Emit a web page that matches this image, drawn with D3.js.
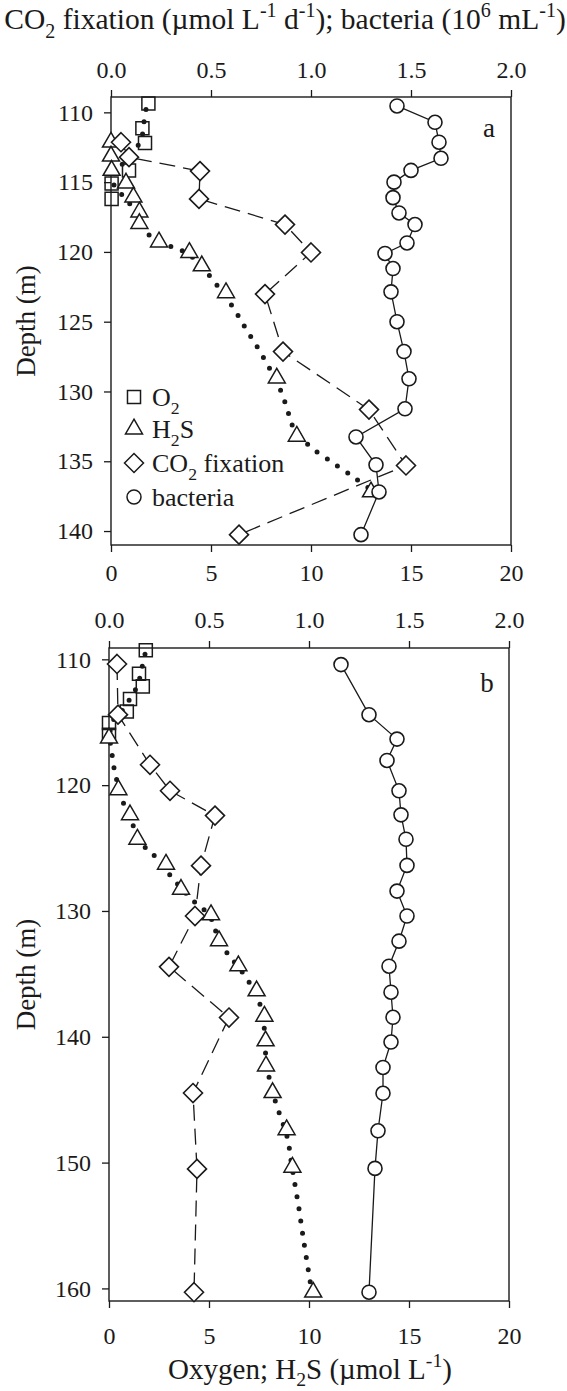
<!DOCTYPE html>
<html><head><meta charset="utf-8">
<script src="https://cdn.jsdelivr.net/npm/d3@7/dist/d3.min.js"></script>
<style>
body{margin:0;background:#fff}
svg{display:block}
text{font-family:"Liberation Serif","Times New Roman",serif;fill:#1a1a1a}
</style>
</head><body>
<svg id="c" width="567" height="1391"></svg>
<script>
// ---------- axis ticks ----------
const bottomTicks = [0, 5, 10, 15, 20];
const topTicks = [0, 0.5, 1.0, 1.5, 2.0];
const depthTicksA = [110, 115, 120, 125, 130, 135, 140];
const depthTicksB = [110, 120, 130, 140, 150, 160];

// ---------- panel a ----------
const a_o2_depth = [109.36, 111.14, 112.19, 114.16, 115.1, 116.2];
const a_o2 = [1.87, 1.57, 1.7, 0.9, 0.03, 0.03];
const a_h2s_depth = [112.14, 113.14, 114.16, 115.07, 116.07, 117.14, 117.97, 119.29, 120.04, 121.0, 122.93, 129.04, 133.21, 137.2];
const a_h2s = [0.0, 0.0, 0.03, 0.75, 1.12, 1.42, 1.42, 2.4, 3.92, 4.54, 5.75, 8.29, 9.29, 13.0];
const a_co2_depth = [112.14, 113.21, 114.21, 116.2, 118.04, 120.04, 123.02, 127.14, 131.3, 135.3, 140.26];
const a_co2 = [0.05, 0.09, 0.445, 0.44, 0.87, 1.0, 0.77, 0.86, 1.29, 1.475, 0.64];
const a_bac_depth = [109.54, 110.71, 112.14, 113.29, 114.16, 115.0, 116.11, 117.21, 118.04, 119.36, 120.11, 121.19, 122.86, 125.0, 127.14, 129.09, 131.24, 133.26, 135.25, 137.2, 140.26];
const a_bac = [1.43, 1.62, 1.64, 1.65, 1.50, 1.415, 1.41, 1.44, 1.52, 1.48, 1.37, 1.41, 1.40, 1.43, 1.465, 1.49, 1.47, 1.225, 1.325, 1.34, 1.25];
// model curve (dotted)
const a_model_depth = [109.8, 110.16, 111.0, 112.0, 113.0, 114.0, 114.8, 115.5, 116.3, 117.3, 118.74, 119.64, 119.95, 120.54, 122.2, 123.93, 125.64, 127.33, 129.88, 131.6, 132.47, 133.88, 135.09, 136.26, 136.9];
const a_model = [1.75, 1.7, 1.62, 1.5, 1.0, 0.4, 0.05, 0.3, 0.8, 1.3, 1.87, 3.03, 3.6, 4.2, 5.2, 6.08, 6.8, 7.53, 8.47, 8.88, 9.08, 9.9, 11.08, 12.25, 12.87];

// ---------- panel b ----------
const b_o2_depth = [109.28, 111.14, 112.15, 113.15, 114.14, 115.06, 116.0];
const b_o2 = [1.84, 1.5, 1.69, 1.05, 0.89, 0.0, 0.0];
const b_h2s_depth = [116.26, 120.37, 122.36, 124.3, 126.29, 128.28, 130.3, 132.37, 134.36, 136.35, 138.37, 140.33, 142.32, 144.44, 147.39, 150.37, 160.3];
const b_h2s = [0.0, 0.47, 1.05, 1.42, 2.85, 3.6, 5.1, 5.5, 6.47, 7.38, 7.77, 7.83, 7.85, 8.18, 8.88, 9.17, 10.21];
const b_co2_depth = [110.37, 114.4, 118.38, 120.45, 122.42, 126.4, 130.4, 134.44, 138.47, 144.47, 150.5, 160.3];
const b_co2 = [0.04, 0.045, 0.205, 0.305, 0.53, 0.46, 0.43, 0.30, 0.60, 0.42, 0.44, 0.425];
const b_bac_depth = [110.42, 114.4, 116.34, 118.04, 120.45, 122.36, 124.3, 126.38, 128.42, 130.4, 132.4, 134.39, 136.46, 138.45, 140.42, 142.44, 144.49, 147.47, 150.46, 160.3];
const b_bac = [1.16, 1.30, 1.44, 1.39, 1.45, 1.46, 1.485, 1.49, 1.44, 1.49, 1.45, 1.40, 1.41, 1.42, 1.41, 1.37, 1.37, 1.345, 1.33, 1.30];
const b_model_depth = [109.6, 111.0, 112.0, 113.0, 114.0, 115.0, 116.2, 117.32, 118.3, 119.26, 121.17, 123.08, 124.83, 125.73, 127.54, 129.27, 130.06, 130.94, 131.84, 132.85, 133.77, 135.64, 137.57, 139.43, 141.34, 143.2, 145.19, 148.03, 149.83, 151.77, 153.68, 155.54, 157.7, 159.67];
const b_model = [1.8, 1.6, 1.45, 1.1, 0.7, 0.15, 0.05, 0.135, 0.215, 0.335, 0.665, 1.165, 1.75, 2.35, 3.25, 4.27, 4.85, 5.22, 5.38, 5.68, 6.13, 7.0, 7.58, 7.77, 7.83, 8.0, 8.33, 8.92, 9.1, 9.3, 9.5, 9.67, 9.88, 10.08];

// ---------- texts ----------
const legendLabels = [[["O", ""], ["2", "sub"]], [["H", ""], ["2", "sub"], ["S", ""]], [["CO", ""], ["2", "sub"], [" fixation", ""]], [["bacteria", ""]]];
const topTitle = [["CO", ""], ["2", "sub"], [" fixation (µmol L", ""], ["-1", "sup"], [" d", ""], ["-1", "sup"], ["); bacteria (10", ""], ["6", "sup"], [" mL", ""], ["-1", "sup"], [")", ""]];
const bottomTitle = [["Oxygen; H", ""], ["2", "sub"], ["S (µmol L", ""], ["-1", "sup"], [")", ""]];
const yTitle = "Depth (m)";

const INK = "#1a1a1a";
const svg = d3.select("#c");

function rich(t, parts, size, subShift) {
  let cur = 0;
  const sub = subShift == null ? 0.32 : subShift;
  parts.forEach(([s, m]) => {
    const target = m === "sub" ? sub * size : (m === "sup" ? -0.4 * size : 0);
    const ts = t.append("tspan").text(s).attr("dy", target - cur);
    if (m) ts.attr("font-size", size * 0.68);
    cur = target;
  });
}

const sym = {
  square: d3.symbol().type(d3.symbolSquare).size(170)(),
  triangle: d3.symbol().type(d3.symbolTriangle).size(125)(),
  diamond: "M0,-9.5L9.5,0L0,9.5L-9.5,0Z",
  circle: d3.symbol().type(d3.symbolCircle).size(Math.PI * 49)()
};

function drawPanel(cfg) {
  const x = d3.scaleLinear().domain([0, 20]).range([cfg.left, cfg.right]);
  const xt = d3.scaleLinear().domain([0, 2]).range([cfg.left, cfg.right]);
  const y = d3.scaleLinear().domain(cfg.domain).range([cfg.top, cfg.bottom]);
  const g = svg.append("g");

  const styleAxis = (ax) => {
    ax.select(".domain").remove();
    ax.selectAll("line").attr("stroke", INK).attr("stroke-width", 1.3);
    ax.selectAll("text").attr("font-size", 24).attr("fill", INK)
      .attr("font-family", '"Liberation Serif","Times New Roman",serif');
  };

  const axB = g.append("g").attr("transform", `translate(0,${cfg.bottom})`)
    .call(d3.axisBottom(x).tickValues(bottomTicks).tickSize(7).tickPadding(cfg.botPad).tickFormat(d3.format("d")));
  styleAxis(axB);
  const axT = g.append("g").attr("transform", `translate(0,${cfg.top})`)
    .call(d3.axisTop(xt).tickValues(topTicks).tickSize(7).tickPadding(cfg.topPad).tickFormat(d3.format(".1f")));
  styleAxis(axT);
  const axL = g.append("g").attr("transform", `translate(${cfg.left},0)`)
    .call(d3.axisLeft(y).tickValues(cfg.depthTicks).tickSize(7).tickPadding(11).tickFormat(d3.format("d")));
  styleAxis(axL);

  g.append("rect").attr("x", cfg.left).attr("y", cfg.top)
    .attr("width", cfg.right - cfg.left).attr("height", cfg.bottom - cfg.top)
    .attr("fill", "none").attr("stroke", INK).attr("stroke-width", 1.4);

  // dotted model curve
  const modelPts = cfg.modelD.map((d, i) => [x(cfg.modelV[i]), y(d)]);
  g.append("path").attr("d", d3.line().curve(d3.curveCatmullRom)(modelPts))
    .attr("fill", "none").attr("stroke", INK).attr("stroke-width", 5)
    .attr("stroke-linecap", "round").attr("stroke-dasharray", "0 12.3");

  // O2 squares
  g.selectAll(null).data(cfg.o2D).enter().append("path")
    .attr("d", sym.square).attr("transform", (d, i) => `translate(${x(cfg.o2V[i])},${y(d)})`)
    .attr("fill", "none").attr("stroke", INK).attr("stroke-width", 1.5);

  // H2S triangles
  g.selectAll(null).data(cfg.h2sD).enter().append("path")
    .attr("d", sym.triangle).attr("transform", (d, i) => `translate(${x(cfg.h2sV[i])},${y(d)})`)
    .attr("fill", "#fff").attr("stroke", INK).attr("stroke-width", 1.5);

  // CO2 dashed line + diamonds
  const co2Pts = cfg.co2D.map((d, i) => [xt(cfg.co2V[i]), y(d)]);
  g.append("path").attr("d", d3.line()(co2Pts)).attr("fill", "none")
    .attr("stroke", INK).attr("stroke-width", 1.3).attr("stroke-dasharray", "16 8");
  g.selectAll(null).data(co2Pts).enter().append("path")
    .attr("d", sym.diamond).attr("transform", d => `translate(${d[0]},${d[1]})`)
    .attr("fill", "#fff").attr("stroke", INK).attr("stroke-width", 1.6);

  // bacteria solid line + circles
  const bacPts = cfg.bacD.map((d, i) => [xt(cfg.bacV[i]), y(d)]);
  g.append("path").attr("d", d3.line()(bacPts)).attr("fill", "none")
    .attr("stroke", INK).attr("stroke-width", 1.3);
  g.selectAll(null).data(bacPts).enter().append("path")
    .attr("d", sym.circle).attr("transform", d => `translate(${d[0]},${d[1]})`)
    .attr("fill", "#fff").attr("stroke", INK).attr("stroke-width", 1.6);

  // panel letter
  g.append("text").attr("x", cfg.right - 22).attr("y", cfg.top + cfg.letterDy)
    .attr("text-anchor", "middle").attr("font-size", 27).text(cfg.letter);

  // y title
  g.append("text").attr("transform", `translate(35,${(cfg.top + cfg.bottom) / 2}) rotate(-90)`)
    .attr("text-anchor", "middle").attr("font-size", 27).text(yTitle);

  return { x, xt, y, g };
}

const pa = drawPanel({
  left: 111, right: 511, top: 97, bottom: 545, domain: [108.9, 141], depthTicks: depthTicksA,
  botPad: 12, topPad: 12, letter: "a", letterDy: 40,
  o2D: a_o2_depth, o2V: a_o2, h2sD: a_h2s_depth, h2sV: a_h2s, co2D: a_co2_depth, co2V: a_co2,
  bacD: a_bac_depth, bacV: a_bac, modelD: a_model_depth, modelV: a_model
});
const pb = drawPanel({
  left: 109, right: 509, top: 648, bottom: 1301, domain: [109.1, 161], depthTicks: depthTicksB,
  botPad: 19, topPad: 13, letter: "b", letterDy: 44,
  o2D: b_o2_depth, o2V: b_o2, h2sD: b_h2s_depth, h2sV: b_h2s, co2D: b_co2_depth, co2V: b_co2,
  bacD: b_bac_depth, bacV: b_bac, modelD: b_model_depth, modelV: b_model
});

// legend (panel a)
const legSyms = ["square", "triangle", "diamond", "circle"];
const legY = [397, 429, 463, 497];
const leg = pa.g.append("g");
legSyms.forEach((s, i) => {
  leg.append("path").attr("d", sym[s]).attr("transform", `translate(134,${legY[i]})`)
    .attr("fill", "#fff").attr("stroke", INK).attr("stroke-width", 1.5);
  const t = leg.append("text").attr("x", 152).attr("y", legY[i] + 9).attr("font-size", 26);
  rich(t, legendLabels[i], 26);
});

// titles
const tt = svg.append("text").attr("x", 285).attr("y", 29).attr("text-anchor", "middle").attr("font-size", 29.5);
rich(tt, topTitle, 29.5);
const bt = svg.append("text").attr("x", 310).attr("y", 1379).attr("text-anchor", "middle").attr("font-size", 29);
rich(bt, bottomTitle, 29, 0.24);
</script>
</body></html>
